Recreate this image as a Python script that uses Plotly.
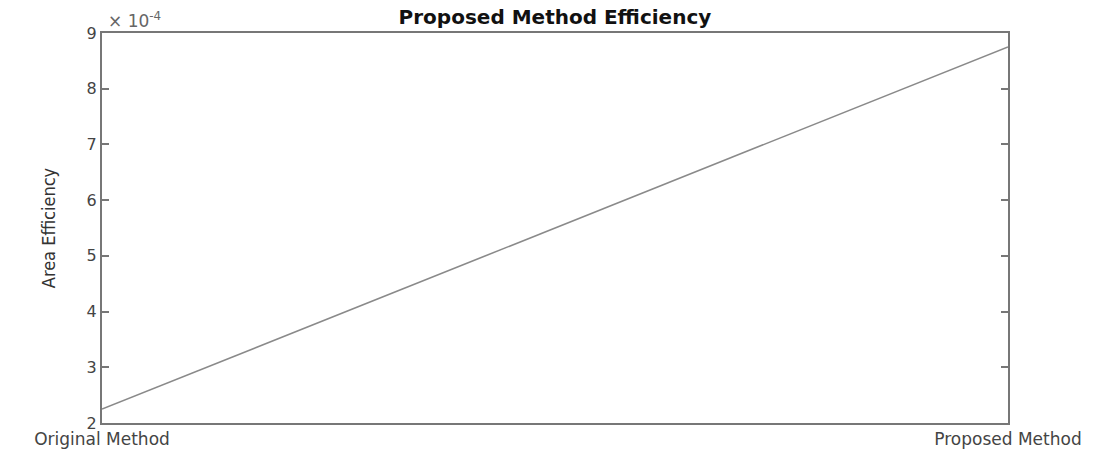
import plotly.graph_objects as go

methods = ["Original Method", "Proposed Method"]
area_efficiency = [2.25e-4, 8.75e-4]
ytick_vals = [2e-4, 3e-4, 4e-4, 5e-4, 6e-4, 7e-4, 8e-4, 9e-4]
ytick_text = ["2", "3", "4", "5", "6", "7", "8", "9"]

fig = go.Figure()
fig.add_trace(go.Scatter(
    x=methods, y=area_efficiency, mode="lines",
    line=dict(color="#8a8a8a", width=1.6), showlegend=False,
))

fig.update_layout(
    width=1118, height=450,
    margin=dict(l=102, r=110, t=33, b=27, autoexpand=False),
    paper_bgcolor="white", plot_bgcolor="white",
    font=dict(family="DejaVu Sans, sans-serif", color="#333333", size=15),
    title=dict(text="<b>Proposed Method Efficiency</b>", x=0.4964, xanchor="center",
               y=0.962, yanchor="middle", automargin=False,
               font=dict(size=20, color="#111111")),
    xaxis=dict(
        type="category", range=[0, 1], showgrid=False, zeroline=False, automargin=False,
        showline=True, linecolor="#777777", linewidth=2, mirror=True,
        ticks="", tickfont=dict(size=17, color="#444444"), ticklabelstandoff=0,
    ),
    yaxis=dict(
        range=[2e-4, 9e-4], tickvals=ytick_vals, ticktext=ytick_text,
        showgrid=False, zeroline=False, automargin=False,
        showline=True, linecolor="#777777", linewidth=2, mirror="allticks",
        ticks="inside", ticklen=7, tickcolor="#777777", tickwidth=1.5,
        tickfont=dict(size=16, color="#444444"),
        title=dict(text="Area Efficiency", standoff=26,
                   font=dict(family="DejaVu Sans Condensed, sans-serif",
                             size=18, color="#333333")),
    ),
    annotations=[dict(
        text="× 10<sup>-4</sup>", xref="paper", yref="paper", x=0.004, y=1.0,
        xanchor="left", yanchor="bottom", showarrow=False,
        font=dict(size=17, color="#666666"),
    )],
)

fig.write_html("out.html", config={"displayModeBar": False},
               post_script="document.body.style.margin='0';")
